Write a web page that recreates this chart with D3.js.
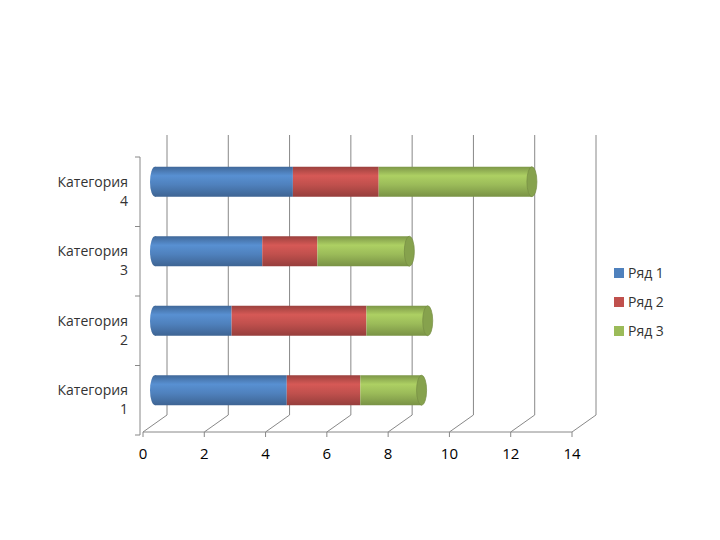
<!DOCTYPE html>
<html><head><meta charset="utf-8">
<script src="https://cdn.jsdelivr.net/npm/d3@7"></script>
<style>body{margin:0;background:#fff}</style>
</head><body><div id="chart"></div>
<script>
const categories = ["Категория 1", "Категория 2", "Категория 3", "Категория 4"];
const seriesNames = ["Ряд 1", "Ряд 2", "Ряд 3"];
const series1 = [4.3, 2.5, 3.5, 4.5];
const series2 = [2.4, 4.4, 1.8, 2.8];
const series3 = [2, 2, 3, 5];
const ticks = [0, 2, 4, 6, 8, 10, 12, 14];
const colors = ["#4F81BD", "#C0504D", "#9BBB59"];

const width = 720, height = 540;
const dx = 24, dy = -17;
const svg = d3.select("#chart").append("svg").attr("width", width).attr("height", height)
  .style("font-family", "'Open Sans', sans-serif");

const x = d3.scaleLinear().domain([0, 14]).range([143, 572]);
const y = d3.scaleBand().domain(categories.slice().reverse()).range([157, 435]);
const floorY = 432;

// gradients per colour
const defs = svg.append("defs");
colors.forEach((c, i) => {
  const g = defs.append("linearGradient").attr("id", "g" + i).attr("x1", 0).attr("x2", 0).attr("y1", 0).attr("y2", 1);
  g.append("stop").attr("offset", "0%").attr("stop-color", d3.color(c).darker(0.6));
  g.append("stop").attr("offset", "30%").attr("stop-color", d3.color(c).brighter(0.3));
  g.append("stop").attr("offset", "60%").attr("stop-color", c);
  g.append("stop").attr("offset", "100%").attr("stop-color", d3.color(c).darker(0.7));
});

const grid = svg.append("g").attr("stroke", "#888").attr("fill", "none").attr("stroke-width", 1);
ticks.forEach(t => {
  grid.append("line").attr("x1", x(t)).attr("y1", floorY).attr("x2", x(t) + dx).attr("y2", floorY + dy);
  grid.append("line").attr("x1", x(t) + dx).attr("y1", floorY + dy).attr("x2", x(t) + dx).attr("y2", 135);
  grid.append("line").attr("x1", x(t)).attr("y1", floorY).attr("x2", x(t)).attr("y2", floorY + 5);
});
grid.append("line").attr("x1", x(0)).attr("y1", floorY).attr("x2", x(14)).attr("y2", floorY);
grid.append("line").attr("x1", 140).attr("y1", 157).attr("x2", 140).attr("y2", 435);
y.domain().forEach(c => {
  grid.append("line").attr("x1", 135).attr("x2", 140).attr("y1", y(c)).attr("y2", y(c));
});
grid.append("line").attr("x1", 135).attr("x2", 140).attr("y1", 435).attr("y2", 435);

// tick labels
svg.append("g").selectAll("text").data(ticks).join("text")
  .attr("x", d => x(d)).attr("y", 459).attr("text-anchor", "middle")
  .attr("font-size", 15).attr("fill", "#000").text(d => d);

// category labels
categories.forEach(c => {
  const [a, b] = c.split(" ");
  const cy = y(c) + y.bandwidth() / 2;
  const t = svg.append("text").attr("text-anchor", "end").attr("font-size", 14).attr("fill", "#333");
  t.append("tspan").attr("x", 128).attr("y", cy - 5).text(a);
  t.append("tspan").attr("x", 128).attr("y", cy + 14).text(b);
});

// cylinders
const x0 = 155, k = x(1) - x(0), h = 30, rx = 5;
const data = [series1, series2, series3];
categories.forEach((c, ci) => {
  const cy = y(c) + y.bandwidth() / 2 - 10;
  let acc = 0;
  data.forEach((s, si) => {
    const a = x0 + acc * k, b = x0 + (acc + s[ci]) * k;
    acc += s[ci];
    svg.append("rect").attr("x", a).attr("y", cy - h / 2).attr("width", b - a).attr("height", h)
      .attr("fill", `url(#g${si})`);
    if (si === 0)
      svg.append("ellipse").attr("cx", a).attr("cy", cy).attr("rx", rx).attr("ry", h / 2).attr("fill", `url(#g${si})`);
    if (si === 2)
      svg.append("ellipse").attr("cx", b).attr("cy", cy).attr("rx", rx).attr("ry", h / 2)
        .attr("fill", d3.color(colors[si]).darker(0.4)).attr("stroke", d3.color(colors[si]).darker(0.8)).attr("stroke-width", 0.7);
  });
});

// legend
seriesNames.forEach((n, i) => {
  const ly = 273 + i * 29;
  svg.append("rect").attr("x", 614).attr("y", ly - 5).attr("width", 10).attr("height", 10).attr("fill", colors[i]);
  svg.append("text").attr("x", 628).attr("y", ly + 5).attr("font-size", 14).attr("fill", "#333").text(n);
});
</script></body></html>
